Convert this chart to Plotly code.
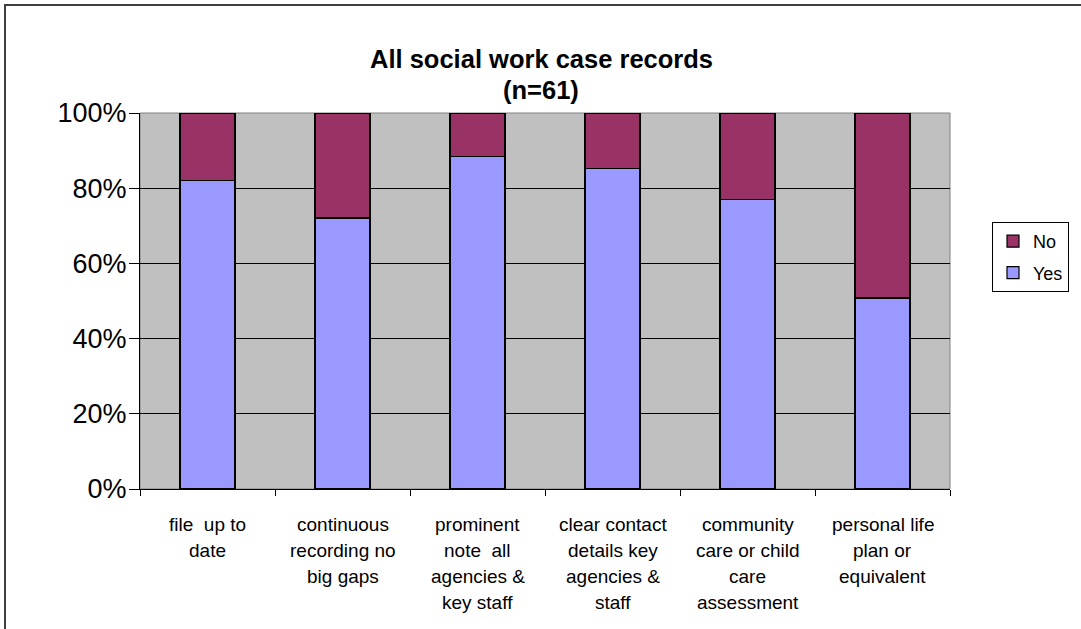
import plotly.graph_objects as go

# Audit of social work case records (n=61), share of records meeting each criterion
categories = [
    "file up to date",
    "continuous recording no big gaps",
    "prominent note all agencies & key staff",
    "clear contact details key agencies & staff",
    "community care or child care assessment",
    "personal life plan or equivalent",
]
label_lines = [
    ["file  up to", "date"],
    ["continuous", "recording no", "big gaps"],
    ["prominent", "note  all", "agencies &", "key staff"],
    ["clear contact", "details key", "agencies &", "staff"],
    ["community", "care or child", "care", "assessment"],
    ["personal life", "plan or", "equivalent"],
]
title_lines = ["All social work case records", "(n=61)"]
yes_pct = [82.0, 72.1, 88.5, 85.2, 77.0, 50.8]
no_pct = [round(100 - v, 1) for v in yes_pct]

y_ticks = [0, 20, 40, 60, 80, 100]
y_ticktext = ["0%", "20%", "40%", "60%", "80%", "100%"]

W, H = 1081, 629
L, R, T, B = 140, 950, 113, 489  # plot area in pixels
FONT = "Arial, Liberation Sans, sans-serif"


def px_x(px):
    return (px - L) / (R - L)


def px_y(py):
    return (B - py) / (B - T)


fig = go.Figure()
fig.add_trace(go.Bar(
    x=categories, y=yes_pct, name="Yes", legendgroup="yes", legendrank=2,
    marker=dict(color="#9999FF", line=dict(color="#000000", width=1.2)),
))
fig.add_trace(go.Bar(
    x=categories, y=no_pct, name="No", legendgroup="no", legendrank=1,
    marker=dict(color="#993366", line=dict(color="#000000", width=1.2)),
))

# multi-line category labels under each bar
annotations = []
for cat, lines in zip(categories, label_lines):
    for i, line in enumerate(lines):
        annotations.append(dict(
            x=cat, xref="x", y=px_y(524 + 26 * i), yref="paper",
            text=line, showarrow=False, xanchor="center", yanchor="middle",
            font=dict(family=FONT, size=19, color="#000000"),
        ))

# chart title, two lines
for i, line in enumerate(title_lines):
    annotations.append(dict(
        x=px_x(541), xref="paper", y=px_y(59 + 31 * i), yref="paper",
        text="<b>%s</b>" % line, showarrow=False,
        xanchor="center", yanchor="middle",
        font=dict(family=FONT, size=25.5, color="#000000"),
    ))

fig.update_layout(
    width=W, height=H,
    margin=dict(l=L, r=W - R, t=T, b=H - B, pad=0),
    paper_bgcolor="#FFFFFF",
    plot_bgcolor="#C0C0C0",
    barmode="stack",
    bargap=0.593,
    showlegend=True,
    legend=dict(
        x=px_x(992), y=px_y(222), xanchor="left", yanchor="top",
        traceorder="grouped", tracegroupgap=5,
        bgcolor="#FFFFFF", bordercolor="#000000", borderwidth=1,
        font=dict(family=FONT, size=18, color="#000000"),
        itemwidth=30,
    ),
    xaxis=dict(
        type="category",
        showticklabels=False,
        ticks="outside", tickson="boundaries", ticklen=6,
        tickcolor="#000000", tickwidth=1,
        showline=True, linecolor="#000000", linewidth=1,
        showgrid=False,
    ),
    yaxis=dict(
        range=[0, 100],
        tickvals=y_ticks, ticktext=y_ticktext,
        ticks="outside", ticklen=10, tickcolor="#000000", tickwidth=1,
        ticklabelstandoff=-3,
        tickfont=dict(family=FONT, size=27, color="#000000"),
        showline=True, linecolor="#000000", linewidth=1,
        showgrid=True, gridcolor="#000000", gridwidth=1,
        zeroline=False,
    ),
    annotations=annotations,
    shapes=[
        # outer chart frame
        dict(type="rect", xref="paper", yref="paper",
             x0=px_x(5), y0=px_y(5), x1=px_x(1095), y1=px_y(645),
             line=dict(color="#404040", width=2), fillcolor="rgba(0,0,0,0)",
             layer="below"),
        # plot area edge
        dict(type="rect", xref="paper", yref="paper",
             x0=0, y0=0, x1=1, y1=1,
             line=dict(color="#808080", width=1), fillcolor="rgba(0,0,0,0)",
             layer="below"),
    ],
)

fig.write_html("out.html")
